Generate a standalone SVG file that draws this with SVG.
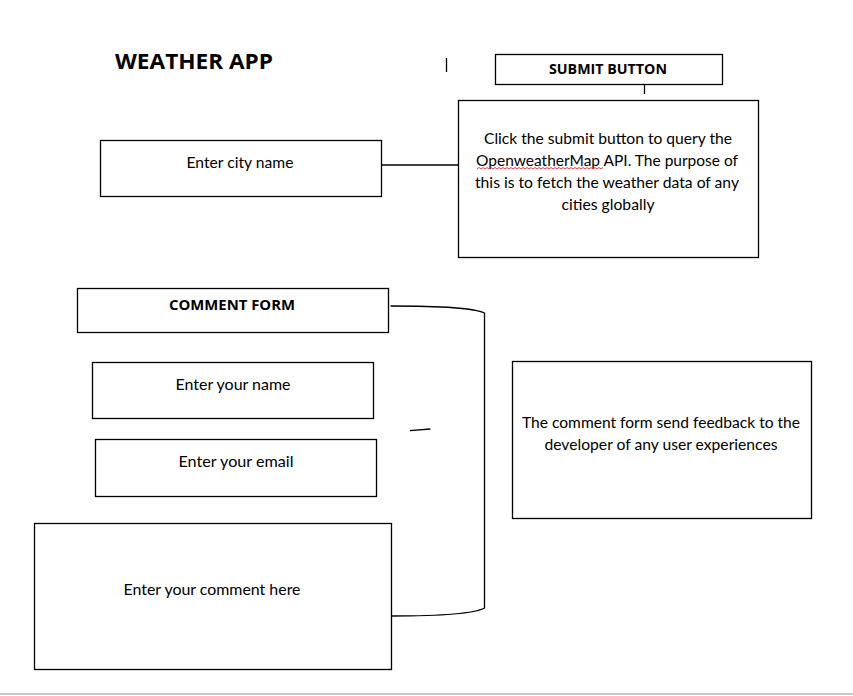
<svg xmlns="http://www.w3.org/2000/svg" width="853" height="696" viewBox="0 0 853 696">
<style>
.box{fill:#fff;stroke:#000;stroke-width:1.3}
.t{font-family:Lato,"Open Sans","Liberation Sans",sans-serif;font-size:15px;fill:#000;text-anchor:middle}
.b{font-family:"Open Sans",Lato,"Liberation Sans",sans-serif;font-weight:bold;fill:#000}
.ln{fill:none;stroke:#000;stroke-width:1.3}
</style>
<rect width="853" height="696" fill="#fff"/>
<line x1="0" y1="694" x2="853" y2="694" stroke="#c8c8c8" stroke-width="2"/>
<text class="b" x="115" y="69" font-size="20.5" textLength="158" lengthAdjust="spacingAndGlyphs">WEATHER APP</text>
<line x1="446.5" y1="58" x2="446.5" y2="72" stroke="#000" stroke-width="1.3"/>
<g id="connectors">
<line class="ln" x1="381" y1="165" x2="458" y2="165"/>
<line class="ln" x1="644.5" y1="84" x2="644.5" y2="94"/>
<path class="ln" d="M390.5 306 Q470 306 484.5 313 L484.5 608 Q470 616 391 616"/>
<line class="ln" x1="410" y1="430.7" x2="430.3" y2="429"/>
</g>
<g id="submit-button">
<rect class="box" x="495.5" y="54.5" width="227" height="30"/>
<text class="b" x="608" y="74" font-size="14.5" text-anchor="middle" textLength="118" lengthAdjust="spacingAndGlyphs">SUBMIT BUTTON</text>
</g>
<g id="submit-desc">
<rect class="box" x="458.5" y="100.5" width="300" height="157"/>
<text class="t" x="608" y="144" textLength="248" lengthAdjust="spacingAndGlyphs">Click the submit button to query the</text>
<text class="t" x="607" y="166" textLength="262" lengthAdjust="spacingAndGlyphs">OpenweatherMap API. The purpose of</text>
<text class="t" x="607" y="188" textLength="264" lengthAdjust="spacingAndGlyphs">this is to fetch the weather data of any</text>
<text class="t" x="608" y="210" textLength="93" lengthAdjust="spacingAndGlyphs">cities globally</text>
<path d="M477 169 l2 -1.5 l2 1.5 l2 -1.5 l2 1.5 l2 -1.5 l2 1.5 l2 -1.5 l2 1.5 l2 -1.5 l2 1.5 l2 -1.5 l2 1.5 l2 -1.5 l2 1.5 l2 -1.5 l2 1.5 l2 -1.5 l2 1.5 l2 -1.5 l2 1.5 l2 -1.5 l2 1.5 l2 -1.5 l2 1.5 l2 -1.5 l2 1.5 l2 -1.5 l2 1.5 l2 -1.5 l2 1.5 l2 -1.5 l2 1.5 l2 -1.5 l2 1.5 l2 -1.5 l2 1.5 l2 -1.5 l2 1.5 l2 -1.5 l2 1.5 l2 -1.5 l2 1.5 l2 -1.5 l2 1.5 l2 -1.5 l2 1.5 l2 -1.5 l2 1.5 l2 -1.5 l2 1.5 l2 -1.5 l2 1.5 l2 -1.5 l2 1.5 l2 -1.5 l2 1.5 l2 -1.5 l2 1.5 l2 -1.5 l2 1.5 l2 -1.5 l2 1.5 l2 -1.5" fill="none" stroke="#e03030" stroke-width="0.9"/>
</g>
<g id="city">
<rect class="box" x="100.5" y="140.5" width="281" height="56"/>
<text class="t" x="240" y="168" textLength="107" lengthAdjust="spacingAndGlyphs">Enter city name</text>
</g>
<g id="comment-form">
<rect class="box" x="77.5" y="288.5" width="311" height="44"/>
<text class="b" x="232" y="310" font-size="14.5" text-anchor="middle" textLength="126" lengthAdjust="spacingAndGlyphs">COMMENT FORM</text>
</g>
<g id="name">
<rect class="box" x="92.5" y="362.5" width="281" height="56"/>
<text class="t" x="233" y="390" textLength="115" lengthAdjust="spacingAndGlyphs">Enter your name</text>
</g>
<g id="email">
<rect class="box" x="95.5" y="439.5" width="281" height="57"/>
<text class="t" x="236" y="467" textLength="115" lengthAdjust="spacingAndGlyphs">Enter your email</text>
</g>
<g id="comment">
<rect class="box" x="34.5" y="523.5" width="357" height="146"/>
<text class="t" x="212" y="595" textLength="177" lengthAdjust="spacingAndGlyphs">Enter your comment here</text>
</g>
<g id="feedback">
<rect class="box" x="512.5" y="361.5" width="299" height="157"/>
<text class="t" x="661" y="428" textLength="278" lengthAdjust="spacingAndGlyphs">The comment form send feedback to the</text>
<text class="t" x="661" y="450" textLength="233" lengthAdjust="spacingAndGlyphs">developer of any user experiences</text>
</g>
</svg>
